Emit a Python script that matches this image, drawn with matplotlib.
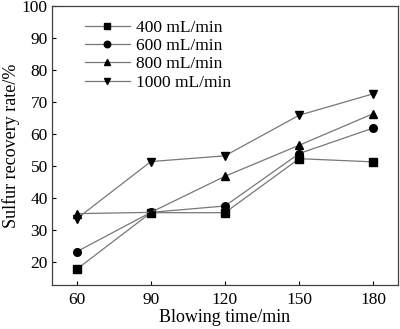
import numpy as np
import matplotlib.pyplot as plt

plt.rcParams['font.family'] = ['Liberation Serif', 'DejaVu Serif']

time_min = [60, 90, 120, 150, 180]
rate_400 = [17.6, 35.3, 35.3, 52.2, 51.2]
rate_600 = [23.1, 35.4, 37.4, 53.8, 61.8]
rate_800 = [35.0, 35.4, 46.7, 56.4, 66.3]
rate_1000 = [33.4, 51.3, 53.1, 65.8, 72.5]
labels = ["400 mL/min", "600 mL/min", "800 mL/min", "1000 mL/min"]

fig = plt.figure(figsize=(4.0, 3.29), dpi=100)
ax = fig.add_axes([0.13, 0.134, 0.865, 0.848])

series = [rate_400, rate_600, rate_800, rate_1000]
markers = ['s', 'o', '^', 'v']
for vals, mk, lab in zip(series, markers, labels):
    ax.plot(time_min, vals, color='#777777', lw=0.9, marker=mk,
            markersize=5.5, markerfacecolor='black', markeredgecolor='black',
            label=lab)

ax.set_xlim(50, 190)
ax.set_ylim(12.7, 100)
ax.set_xticks(time_min)
ax.set_yticks(np.arange(20, 101, 10))
ax.tick_params(direction='in', length=3, width=0.8, labelsize=12.5,
               colors='black', pad=3)
ax.tick_params(axis='x', pad=5)
for s in ax.spines.values():
    s.set_color('#404040')
    s.set_linewidth(0.9)

ax.set_xlabel("Blowing time/min", fontsize=13, labelpad=1)
ax.set_ylabel("Sulfur recovery rate/%", fontsize=13, labelpad=1)

ax.legend(loc='upper left', bbox_to_anchor=(0.075, 0.975), frameon=False,
          fontsize=12.5, handlelength=2.6, handletextpad=0.35,
          labelspacing=0.12, borderaxespad=0, markerscale=0.85)

fig.savefig("out.png", dpi=100)
